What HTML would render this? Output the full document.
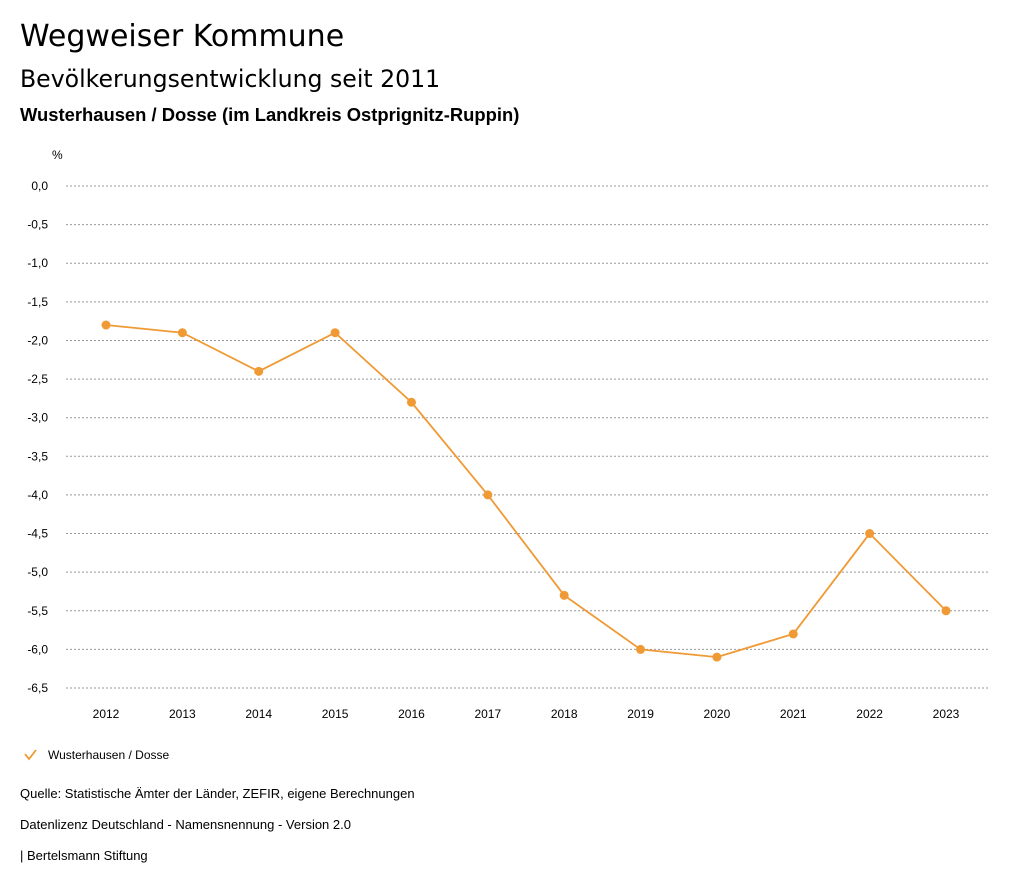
<!DOCTYPE html>
<html><head><meta charset="utf-8"><style>
body{margin:0;background:#fff;font-family:"Liberation Sans",sans-serif;color:#000}
#wrap{position:relative;width:1024px;height:888px;overflow:hidden}
.t{position:absolute;left:20px;white-space:nowrap}
</style></head><body>
<div id="wrap">
<div class="t" style="top:19px;font-size:30px;font-family:'DejaVu Sans',sans-serif">Wegweiser Kommune</div>
<div class="t" style="top:65px;font-size:23.6px;font-family:'DejaVu Sans',sans-serif">Bevölkerungsentwicklung seit 2011</div>
<div class="t" style="top:104px;font-size:18.4px;font-weight:bold">Wusterhausen / Dosse (im Landkreis Ostprignitz-Ruppin)</div>
<svg id="chart" width="1024" height="888" style="position:absolute;left:0;top:0"></svg>
<div class="t" style="top:786px;font-size:13px">Quelle: Statistische Ämter der Länder, ZEFIR, eigene Berechnungen</div>
<div class="t" style="top:817px;font-size:13px">Datenlizenz Deutschland - Namensnennung - Version 2.0</div>
<div class="t" style="top:848px;font-size:13px">| Bertelsmann Stiftung</div>
</div>
<script>
const years=["2012","2013","2014","2015","2016","2017","2018","2019","2020","2021","2022","2023"];
const values=[-1.8,-1.9,-2.4,-1.9,-2.8,-4.0,-5.3,-6.0,-6.1,-5.8,-4.5,-5.5];
const yTicks=[0,-0.5,-1,-1.5,-2,-2.5,-3,-3.5,-4,-4.5,-5,-5.5,-6,-6.5];
const seriesName="Wusterhausen / Dosse";
const NS="http://www.w3.org/2000/svg";
const svg=document.getElementById('chart');
const y=v=>186+(v/-6.5)*(688-186);
const x=i=>106+i*(946-106)/(years.length-1);
function mk(tag,attrs,parent){const e=document.createElementNS(NS,tag);for(const k in attrs)e.setAttribute(k,attrs[k]);(parent||svg).appendChild(e);return e;}
let u=mk('text',{x:52,y:159,'font-size':12,'font-family':'Liberation Sans'});u.textContent='%';


yTicks.forEach(v=>{
  const l=mk('line',{x1:66,x2:990,y1:y(v),y2:y(v),stroke:'#999','stroke-dasharray':'2,2','stroke-width':1});
  
  
  const t=mk('text',{x:48,y:y(v)+4,'font-size':12,'text-anchor':'end','font-family':'Liberation Sans'});
  t.textContent=v.toFixed(1).replace('.',',');
  
  
});
years.forEach((yr,i)=>{
  const t=mk('text',{x:x(i),y:718,'font-size':12,'text-anchor':'middle','font-family':'Liberation Sans'});
  t.textContent=yr;
  
  
});
const p=mk('polyline',{points:values.map((v,i)=>x(i)+','+y(v)).join(' '),fill:'none',stroke:'#ef9a34','stroke-width':1.8});


values.forEach((v,i)=>{
  const c=mk('circle',{cx:x(i),cy:y(v),r:4.5,fill:'#ef9a34'});
  
  
});
const g=mk('g',{});


mk('polyline',{points:'25,754 29,759 36,750',fill:'none',stroke:'#ef9a34','stroke-width':1.8},g);
const lt=mk('text',{x:48,y:759,'font-size':12,'font-family':'Liberation Sans'},g);
lt.textContent=seriesName;
</script>
</body></html>
